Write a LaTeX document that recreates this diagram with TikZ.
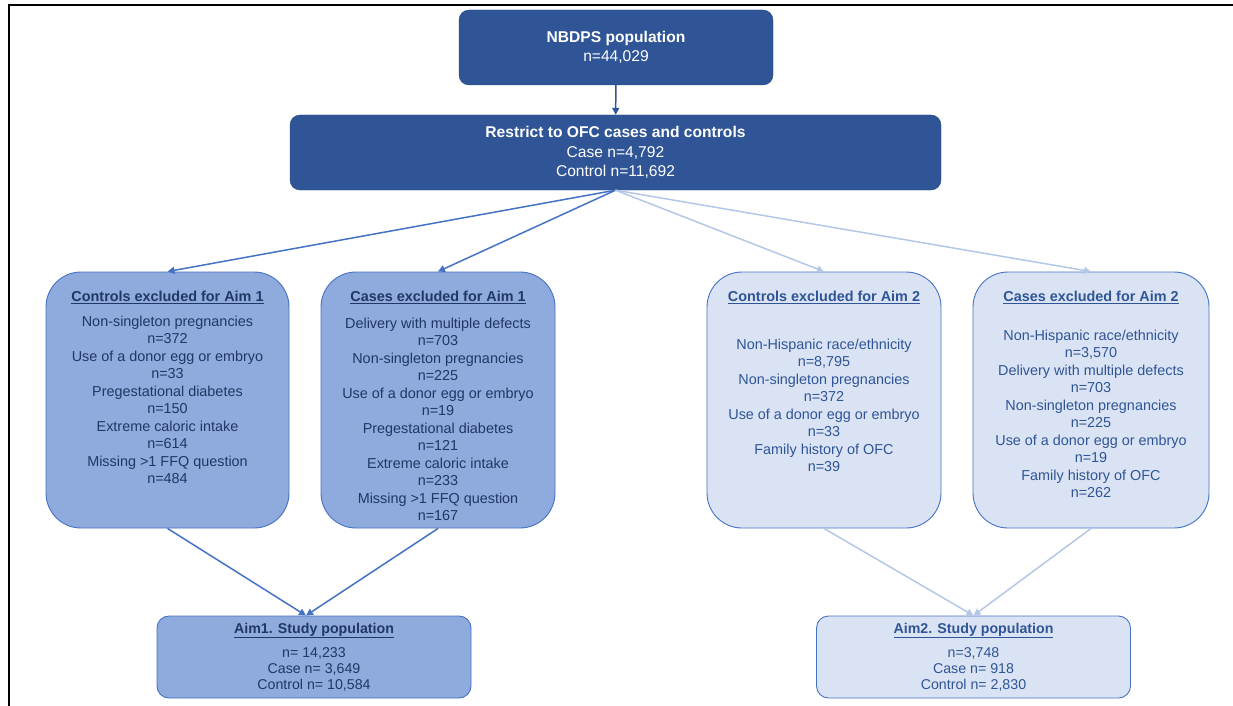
\documentclass[tikz,border=0pt]{standalone}
\usepackage{fontspec}
\setmainfont{Liberation Sans}
\usetikzlibrary{arrows.meta}

\definecolor{darkblue}{HTML}{2F5597}
\definecolor{midblue}{HTML}{8FAADC}
\definecolor{paleblue}{HTML}{DAE3F3}
\definecolor{edgeblue}{HTML}{4472C4}
\definecolor{lineblue}{HTML}{4472C4}
\definecolor{lightline}{HTML}{B4C7E7}
\definecolor{navytext}{HTML}{1F3864}
\definecolor{bluetext}{HTML}{2F5597}

\begin{document}
\begin{tikzpicture}[x=1pt,y=-1pt]
\tikzstyle{every node}+=[inner sep=0pt]
\tikzstyle{topbox}=[draw=darkblue!85!black, fill=darkblue, rounded corners=10pt, text=white, align=center, font=\fontsize{15.6}{19.5}\selectfont]
\tikzstyle{exclbox}=[draw=edgeblue, line width=0.9pt, rounded corners=35pt, minimum height=256pt]
\tikzstyle{studybox}=[draw=edgeblue, line width=0.9pt, rounded corners=12pt, minimum width=314pt, minimum height=82pt]
\tikzstyle{bodytext}=[anchor=north, align=center, font=\fontsize{14.4}{17.5}\selectfont]
\tikzstyle{studytext}=[anchor=north, align=center, font=\fontsize{14.2}{16}\selectfont]
\tikzstyle{arr}=[line width=1.5pt, -{Triangle[length=7pt,width=7pt]}]
\useasboundingbox (0,0) rectangle (1233,706);
% frame
\draw [black, line width=2pt] (9,706) -- (9,5) -- (1233,5);
% top boxes
\node [topbox, minimum width=314pt, minimum height=75pt] (nbdps) at (616,47.5) {\textbf{NBDPS population}\\n=44,029};
\node [topbox, minimum width=651pt, minimum height=75pt] (restrict) at (615.5,152.5) {\textbf{Restrict to OFC cases and controls}\\Case n=4,792\\Control n=11,692};
% exclusion boxes
\node [exclbox, fill=midblue, minimum width=243pt] (ctl1) at (167.5,400) {};
\node [bodytext, text=navytext] (ctl1txt) at ([yshift=-19pt]ctl1.north) {\underline{\textbf{Controls excluded for Aim 1}}\\[7.5pt]
Non-singleton pregnancies\\n=372\\Use of a donor egg or embryo\\n=33\\Pregestational diabetes\\n=150\\Extreme caloric intake\\n=614\\Missing >1 FFQ question\\n=484};
\node [exclbox, fill=midblue, minimum width=234pt] (cas1) at (438,400) {};
\node [bodytext, text=navytext] (cas1txt) at ([yshift=-19pt]cas1.north) {\underline{\textbf{Cases excluded for Aim 1}}\\[9.5pt]
Delivery with multiple defects\\n=703\\Non-singleton pregnancies\\n=225\\Use of a donor egg or embryo\\n=19\\Pregestational diabetes\\n=121\\Extreme caloric intake\\n=233\\Missing >1 FFQ question\\n=167};
\node [exclbox, fill=paleblue, minimum width=234pt] (ctl2) at (824,400) {};
\node [bodytext, text=bluetext] (ctl2txt) at ([yshift=-19pt]ctl2.north) {\underline{\textbf{Controls excluded for Aim 2}}\\[30.5pt]
Non-Hispanic race/ethnicity\\n=8,795\\Non-singleton pregnancies\\n=372\\Use of a donor egg or embryo\\n=33\\Family history of OFC\\n=39};
\node [exclbox, fill=paleblue, minimum width=236pt] (cas2) at (1091,400) {};
\node [bodytext, text=bluetext] (cas2txt) at ([yshift=-19pt]cas2.north) {\underline{\textbf{Cases excluded for Aim 2}}\\[21.5pt]
Non-Hispanic race/ethnicity\\n=3,570\\Delivery with multiple defects\\n=703\\Non-singleton pregnancies\\n=225\\Use of a donor egg or embryo\\n=19\\Family history of OFC\\n=262};
% study populations
\node [studybox, fill=midblue] (aim1) at (314,657) {};
\node [studytext, text=navytext] (aim1txt) at ([yshift=-7pt]aim1.north) {\underline{\textbf{Aim1. Study population}}\\[8pt]
n= 14,233\\Case n= 3,649\\Control n= 10,584};
\node [studybox, fill=paleblue] (aim2) at (973.5,657) {};
\node [studytext, text=bluetext] (aim2txt) at ([yshift=-7pt]aim2.north) {\underline{\textbf{Aim2. Study population}}\\[8pt]
n=3,748\\Case n= 918\\Control n= 2,830};
% connectors
\draw [arr, darkblue] (nbdps) -- (restrict);
\draw [arr, lineblue] (restrict.south) -- (ctl1.north);
\draw [arr, lineblue] (restrict.south) -- (cas1.north);
\draw [arr, lightline] (restrict.south) -- (ctl2.north);
\draw [arr, lightline] (restrict.south) -- (cas2.north);
\draw [arr, lineblue] (ctl1.south) -- ([xshift=-8pt]aim1.north);
\draw [arr, lineblue] (cas1.south) -- ([xshift=-8pt]aim1.north);
\draw [arr, lightline] (ctl2.south) -- (aim2.north);
\draw [arr, lightline] (cas2.south) -- (aim2.north);
\end{tikzpicture}
\end{document}
